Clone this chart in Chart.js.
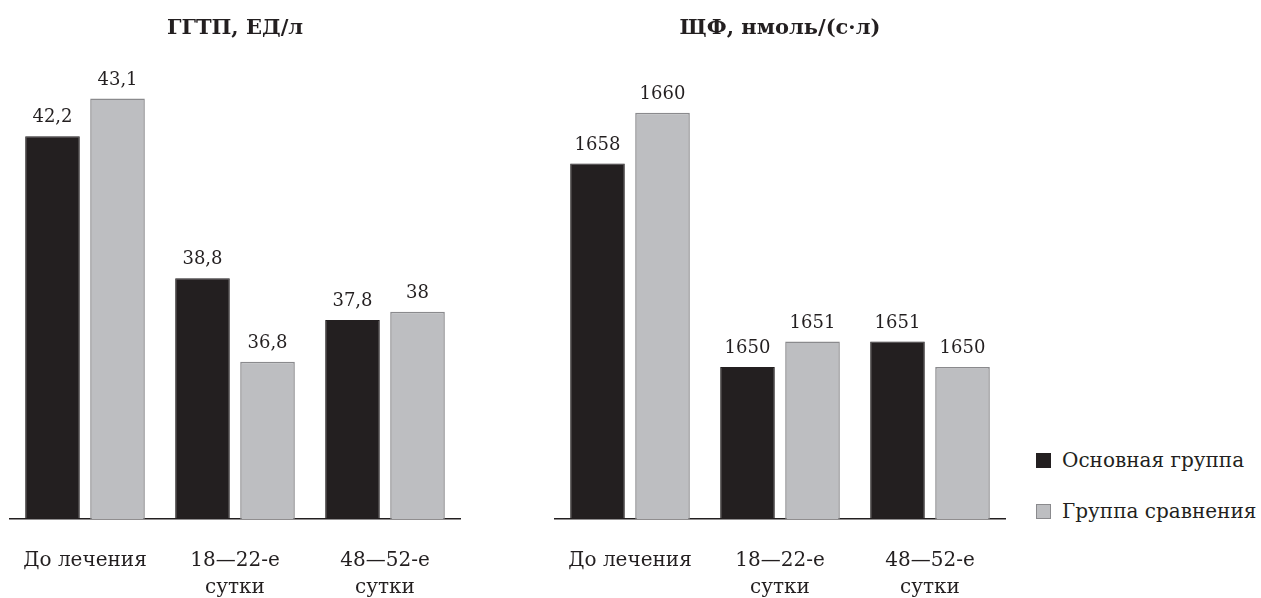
<!DOCTYPE html>
<html lang="ru">
<head>
<meta charset="utf-8">
<script src="https://cdn.jsdelivr.net/npm/chart.js@4/dist/chart.umd.min.js"></script>
<style>
  html, body { margin: 0; padding: 0; background: #fff; }
  body { width: 1261px; height: 598px; position: relative; overflow: hidden; font-family: "DejaVu Serif", serif; }
  .box { position: absolute; top: 0; width: 470px; height: 598px; }
  #legend { position: absolute; left: 1036px; top: 0; font-size: 20px; color: #231f20; }
  #legend .item { position: absolute; left: 0; white-space: nowrap; height: 24px; line-height: 24px; }
  #legend .sw { position: absolute; left: 0; top: 5px; width: 15px; height: 15px; box-sizing: border-box; }
  #legend .tx { position: absolute; left: 26px; top: 0; }
</style>
</head>
<body>
<div class="box" style="left:0"><canvas id="ggtp"></canvas></div>
<div class="box" style="left:545px"><canvas id="alp"></canvas></div>
<div id="legend"></div>
<script>
// Categories (periods of observation)
const categories = [["До лечения"], ["18—22-е", "сутки"], ["48—52-е", "сутки"]];
const seriesNames = ["Основная группа", "Группа сравнения"];

// ГГТП, ЕД/л
const ggtpMain = [42.2, 38.8, 37.8];
const ggtpCompare = [43.1, 36.8, 38];

// ЩФ, нмоль/(с·л)
const alpMain = [1658, 1650, 1651];
const alpCompare = [1660, 1651, 1650];

const colors = {
  main: "#231f20", mainBorder: "#231f20",
  compare: "#bdbec1", compareBorder: "#8a8a8d"
};
const FONT = "'DejaVu Serif', serif";

// value labels above each bar, with a comma as decimal separator
const valueLabels = {
  id: "valueLabels",
  afterDatasetsDraw(chart) {
    const ctx = chart.ctx;
    ctx.save();
    ctx.font = "18px " + FONT;
    ctx.fillStyle = "#231f20";
    ctx.textAlign = "center";
    ctx.textBaseline = "alphabetic";
    chart.data.datasets.forEach((ds, i) => {
      chart.getDatasetMeta(i).data.forEach((bar, j) => {
        ctx.fillText(String(ds.data[j]).replace(".", ","), bar.x, bar.y - 14);
      });
    });
    ctx.restore();
  }
};

function makeChart(id, title, main, compare, yMin, yMax) {
  return new Chart(document.getElementById(id), {
    type: "bar",
    data: {
      labels: categories,
      datasets: [
        { label: seriesNames[0], data: main, backgroundColor: colors.main,
          borderColor: colors.mainBorder, borderWidth: 1 },
        { label: seriesNames[1], data: compare, backgroundColor: colors.compare,
          borderColor: colors.compareBorder, borderWidth: 1.5 }
      ]
    },
    options: {
      responsive: true,
      maintainAspectRatio: false,
      animation: false,
      events: [],
      layout: { padding: { left: 10, right: 10, top: 0, bottom: 0 } },
      datasets: { bar: { categoryPercentage: 0.867, barPercentage: 0.84 } },
      plugins: {
        legend: { display: false },
        tooltip: { enabled: false },
        title: {
          display: true, text: title, color: "#231f20",
          font: { family: FONT, size: 21, weight: "bold", lineHeight: 1.2 },
          padding: { top: 16, bottom: 39 }
        }
      },
      scales: {
        x: {
          // invisible tick marks give the gap between the axis line and the labels
          grid: { display: false, drawTicks: true, tickLength: 28 },
          border: { display: true, color: "#231f20", width: 1.5 },
          ticks: { color: "#231f20", padding: 0, maxRotation: 0, autoSkip: false,
                   font: { family: FONT, size: 20, lineHeight: 1.35 } },
          afterFit(scale) { scale.height = 79; }
        },
        y: { display: false, min: yMin, max: yMax }
      }
    },
    plugins: [valueLabels]
  });
}

makeChart("ggtp", "ГГТП, ЕД/л", ggtpMain, ggtpCompare, 33.04, 43.54);
makeChart("alp", "ЩФ, нмоль/(с·л)", alpMain, alpCompare, 1644.02, 1661.28);

// legend
const legend = document.getElementById("legend");
[[colors.main, colors.mainBorder], [colors.compare, colors.compareBorder]].forEach((c, i) => {
  const item = document.createElement("div");
  item.className = "item";
  item.style.top = (448 + i * 51) + "px";
  const sw = document.createElement("span");
  sw.className = "sw";
  sw.style.background = c[0];
  sw.style.border = "1px solid " + c[1];
  const tx = document.createElement("span");
  tx.className = "tx";
  tx.textContent = seriesNames[i];
  item.appendChild(sw);
  item.appendChild(tx);
  legend.appendChild(item);
});
</script>
</body>
</html>
